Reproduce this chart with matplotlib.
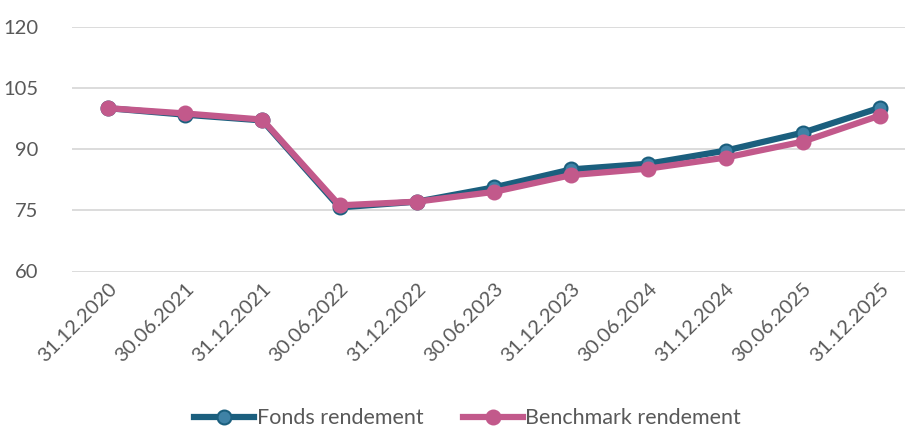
import matplotlib.pyplot as plt
from matplotlib.ticker import MultipleLocator

dates = ["31.12.2020", "30.06.2021", "31.12.2021", "30.06.2022", "31.12.2022",
         "30.06.2023", "31.12.2023", "30.06.2024", "31.12.2024", "30.06.2025",
         "31.12.2025"]
fonds = [100.0, 98.4, 97.0, 75.7, 77.1, 80.6, 85.0, 86.4, 89.6, 94.0, 100.1]
benchmark = [100.0, 98.7, 97.2, 76.2, 77.1, 79.5, 83.6, 85.2, 87.9, 91.8, 98.2]

plt.rcParams['font.family'] = ['Lato', 'DejaVu Sans']

fig = plt.figure(figsize=(9.08, 4.32), dpi=100)
ax = fig.add_axes([72 / 908, 1 - 271.5 / 432, (905 - 72) / 908, (271.5 - 26.5) / 432])

x = list(range(len(dates)))
ax.plot(x, fonds, color='#1B5F7E', lw=4.5, marker='o', ms=10,
        mfc='#3F82A6', mec='#1B5F7E', mew=1.5, label='Fonds rendement', zorder=3)
ax.plot(x, benchmark, color='#C2598B', lw=4.5, marker='o', ms=10,
        mfc='#C2598B', mec='#C2598B', mew=1.5, label='Benchmark rendement', zorder=4)

ax.set_ylim(60, 120)
ax.set_xlim(-0.466, 10.324)
ax.yaxis.set_major_locator(MultipleLocator(15))
ax.grid(axis='y', color='#D9D9D9', lw=1.3)
ax.set_axisbelow(True)
for s in ax.spines.values():
    s.set_visible(False)
ax.tick_params(axis='both', length=0, colors='#595959', labelsize=14.5)
ax.tick_params(axis='y', pad=24)
ax.tick_params(axis='x', pad=6)
ax.set_xticks(x)
ax.set_xticklabels(dates, rotation=45, ha='right', rotation_mode='anchor')

fig.legend(loc='lower center', bbox_to_anchor=(0.515, -0.036), ncol=2, frameon=False,
           fontsize=15.5, labelcolor='#595959', handlelength=2.8, handletextpad=0.1,
           columnspacing=1.85)

fig.savefig('out.png', dpi=100)
